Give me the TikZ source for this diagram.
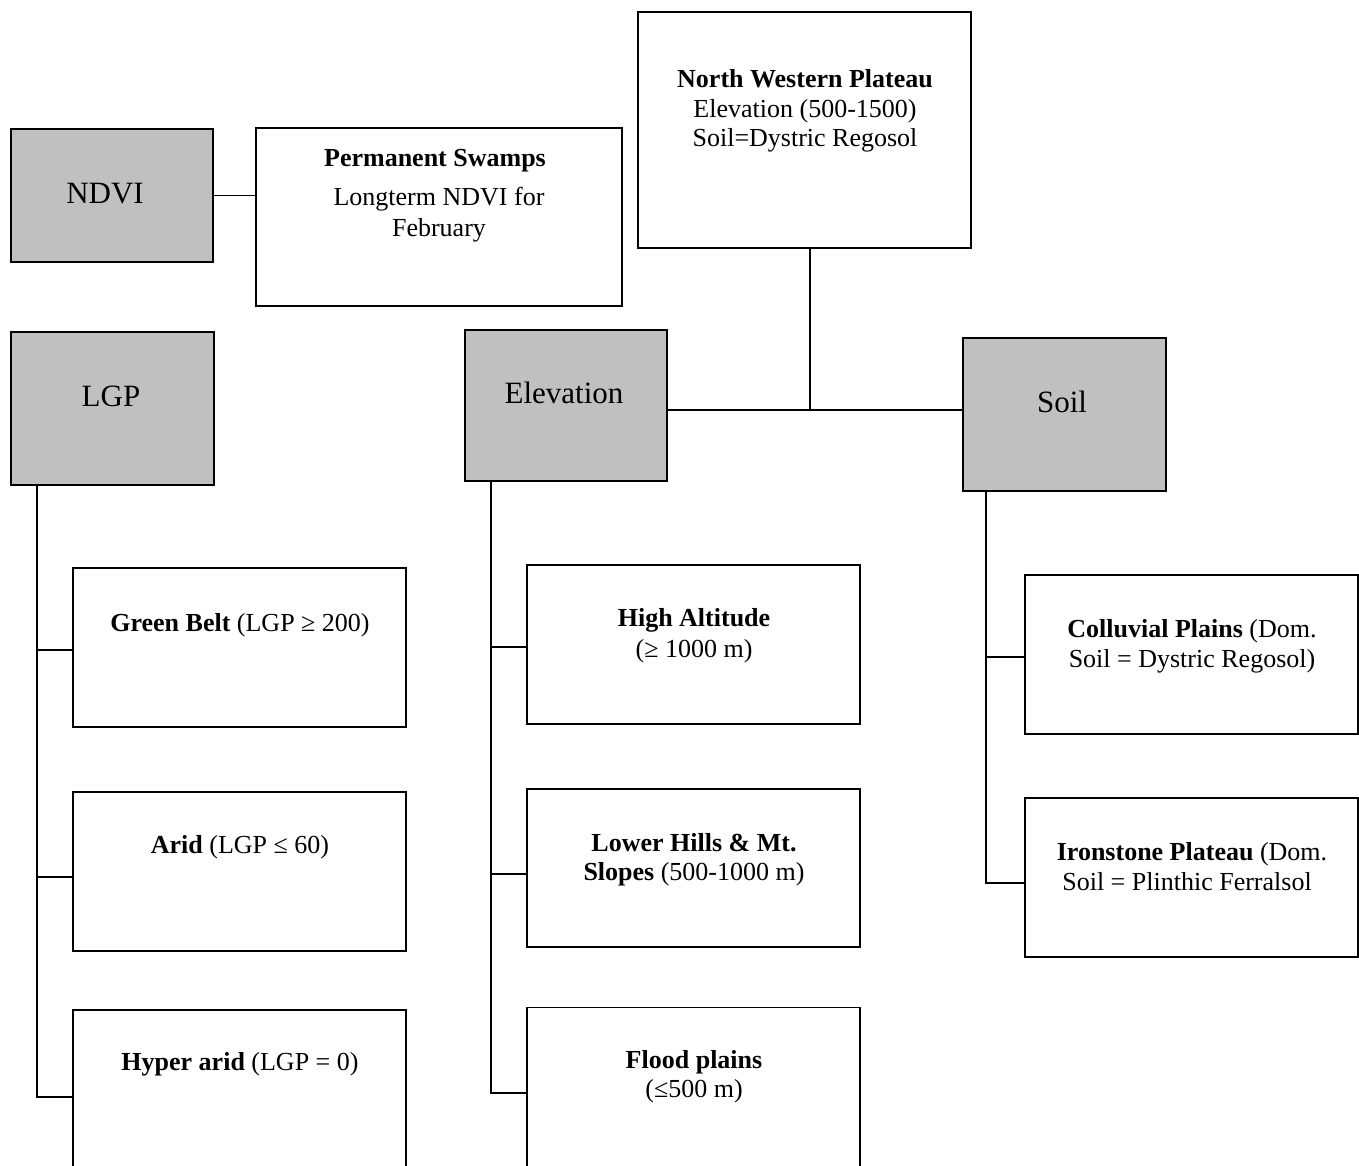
\documentclass[tikz,border=0pt]{standalone}
\usepackage{fontspec}
\setmainfont{Liberation Serif}
\begin{document}
\begin{tikzpicture}[x=1pt,y=-1pt,
  box/.style={draw,line width=1.5pt,inner sep=0pt,minimum width=333pt,minimum height=159pt},
  gbox/.style={box,fill=shade,minimum width=203pt,minimum height=153pt,font=\fontsize{31}{36}\selectfont},
  txt/.style={inner sep=0pt,anchor=base,font=\fontsize{26}{30}\selectfont},
  conn/.style={line width=1.6pt}]
\definecolor{shade}{HTML}{C0C0C0}
\useasboundingbox (0,0) rectangle (1359,1165);
\clip (0,0) rectangle (1359,1165);
% grey category boxes
\node[gbox,minimum width=202pt,minimum height=133pt] (ndvi) at (112,195.5) {};
\node[txt,font=\fontsize{31}{36}\selectfont] (ndvit) at (105,203) {NDVI};
\node[gbox] (lgp) at (112.5,408.5) {};
\node[txt,font=\fontsize{31}{36}\selectfont] (lgpt) at (111,406) {LGP};
\node[gbox,minimum width=202pt,minimum height=151pt] (elev) at (566,405.5) {};
\node[txt,font=\fontsize{31}{36}\selectfont] (elevt) at (564,403) {Elevation};
\node[gbox] (soil) at (1064.5,414.5) {};
\node[txt,font=\fontsize{31}{36}\selectfont] (soilt) at (1062,412) {Soil};
% white boxes
\node[box,minimum width=366pt,minimum height=178pt] (swamp) at (439,217) {};
\node[txt] (sw1) at (435,166) {\textbf{Permanent Swamps}};
\node[txt] (sw2) at (439,205) {Longterm NDVI for};
\node[txt] (sw3) at (439,236) {February};
\node[box,minimum height=236pt] (nwp) at (804.5,130) {};
\node[txt] (nw1) at (805,87) {\textbf{North Western Plateau}};
\node[txt] (nw2) at (805,117) {Elevation (500-1500)};
\node[txt] (nw3) at (805,146) {Soil=Dystric Regosol};
\node[box] (gb) at (239.5,647.5) {};
\node[txt] (gbt) at (240,631) {\textbf{Green Belt} (LGP ≥ 200)};
\node[box] (arid) at (239.5,871.5) {};
\node[txt] (aridt) at (240,853) {\textbf{Arid} (LGP ≤ 60)};
\node[box] (hyper) at (239.5,1089.5) {};
\node[txt] (hypert) at (240,1070) {\textbf{Hyper arid} (LGP = 0)};
\node[box] (high) at (693.5,644.5) {};
\node[txt] (high1) at (694,626) {\textbf{High Altitude}};
\node[txt] (high2) at (694,657) {(≥ 1000 m)};
\node[box,minimum height=158pt] (lower) at (693.5,868) {};
\node[txt] (low1) at (694,851) {\textbf{Lower Hills \& Mt.}};
\node[txt] (low2) at (694,880) {\textbf{Slopes} (500-1000 m)};
\node[box] (flood) at (693.5,1087) {};
\node[txt] (fl1) at (694,1068) {\textbf{Flood plains}};
\node[txt] (fl2) at (694,1097) {(≤500 m)};
\node[box] (coll) at (1191.5,654.5) {};
\node[txt] (co1) at (1192,637) {\textbf{Colluvial Plains} (Dom.};
\node[txt] (co2) at (1192,667) {Soil = Dystric Regosol)};
\node[box] (iron) at (1191.5,877.5) {};
\node[txt] (ir1) at (1192,860) {\textbf{Ironstone Plateau} (Dom.};
\node[txt] (ir2) at (1187,890) {Soil = Plinthic Ferralsol};
% connectors
\draw[conn] (ndvi.east) -- (ndvi.east -| swamp.west);
\coordinate (ntop) at ([xshift=5.5pt]nwp.south);
\coordinate (erow) at ([yshift=-4.5pt]elev.east);
\coordinate (junc) at (erow -| ntop);
\draw[conn] (ntop) -- (junc);
\draw[conn] (erow) -- (erow -| soil.west);
% LGP tree
\coordinate (lt) at ([xshift=27pt]lgp.south west);
\draw[conn] (lt) |- ([yshift=-7.5pt]hyper.west);
\draw[conn] (lt |- gb.west) ++(0,2.5) coordinate (lgb) -- (lgb -| gb.west);
\draw[conn] (lt |- arid.west) ++(0,5.5) coordinate (lar) -- (lar -| arid.west);
% Elevation tree
\coordinate (et) at ([xshift=27pt]elev.south west);
\draw[conn] (et) |- ([yshift=-6pt]flood.west);
\draw[conn] (et |- high.west) ++(0,2.5) coordinate (ehi) -- (ehi -| high.west);
\draw[conn] (et |- lower.west) ++(0,6) coordinate (elo) -- (elo -| lower.west);
% Soil tree
\coordinate (st) at ([xshift=24pt]soil.south west);
\draw[conn] (st) |- ([yshift=-5.5pt]iron.west);
\draw[conn] (st |- coll.west) ++(0,2.5) coordinate (sco) -- (sco -| coll.west);
\end{tikzpicture}
\end{document}
